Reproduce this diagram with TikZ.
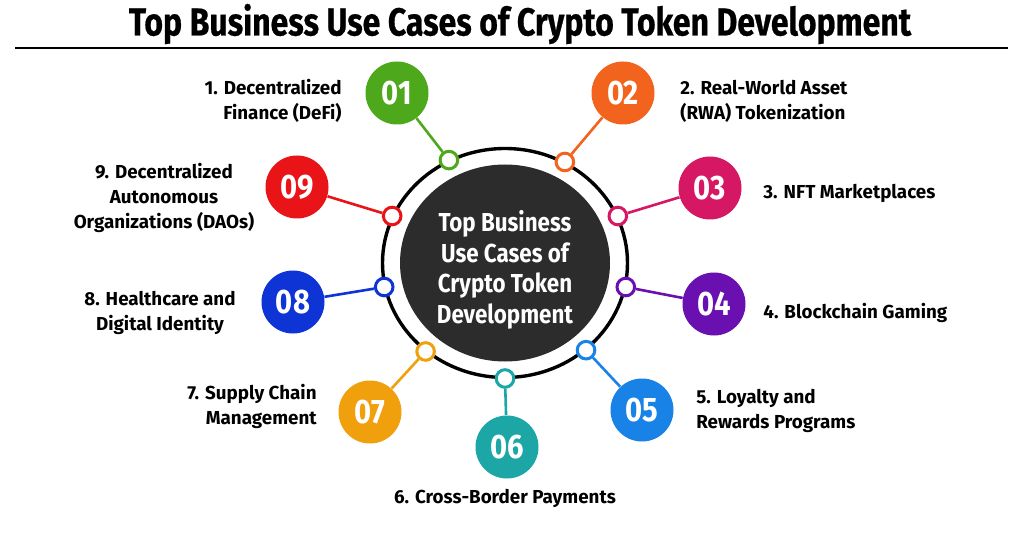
\documentclass[tikz,border=0pt]{standalone}
\usepackage{fontspec}
\setmainfont{Fira Sans}
\newfontfamily\condfont{Fira Sans}[FakeStretch=0.86]
\newfontfamily\titlefont{Fira Sans}[FakeStretch=0.82, FakeBold=0.6]
\usetikzlibrary{positioning, shapes.geometric}
\definecolor{cgreen}{RGB}{78,168,28}
\definecolor{corange}{RGB}{242,100,30}
\definecolor{cmagenta}{RGB}{214,24,100}
\definecolor{cpurple}{RGB}{106,16,176}
\definecolor{cblue}{RGB}{24,130,230}
\definecolor{cteal}{RGB}{28,166,166}
\definecolor{camber}{RGB}{240,160,12}
\definecolor{croyal}{RGB}{14,52,214}
\definecolor{cred}{RGB}{232,20,24}
\definecolor{darkcore}{RGB}{44,44,44}
\tikzset{
  numdot/.style={circle, fill=#1, text=white, minimum size=31.5pt, inner sep=0pt,
    font=\condfont\fontsize{17}{17}\selectfont\bfseries},
  ringdot/.style={circle, draw=#1, fill=white, line width=1.5pt, minimum size=8.8pt, inner sep=0pt},
  caselabel/.style={font=\fontsize{9.4}{12.5}\selectfont\bfseries, inner sep=0pt},
}

\begin{document}
\begin{tikzpicture}[x=0.5pt, y=-0.5pt]
  \useasboundingbox[fill=white] (0,0) rectangle (1024,535);
  % title
  \node[font=\titlefont\fontsize{19.5}{19.5}\selectfont\bfseries] (title) at (520,24) {Top Business Use Cases of Crypto Token Development};
  \draw[line width=0.9pt] (15,48) -- (1008,48);
  % centre
  \draw[line width=1.7pt] (505,263) ellipse [x radius=61.25pt, y radius=57.25pt];
  \node[ellipse, fill=darkcore, minimum width=105pt, minimum height=98.5pt] (core) at (505,263) {};
  \node[text=white, align=center, font=\condfont\fontsize{13}{15.3}\selectfont\bfseries] (coretext) at (505,270)
    {Top Business\\Use Cases of\\Crypto Token\\Development};
  % numbered points
  \foreach \i/\ang/\nx/\ny/\col in {1/117/397/93/cgreen, 2/61/623/93/corange, 3/24/710/188/cmagenta,
      4/-12/714/304/cpurple, 5/-49/642/410/cblue, 6/-90/507/447/cteal, 7/-130/370/412/camber,
      8/192/293/302/croyal, 9/156/297/187/cred}{
    \node[numdot=\col] (n\i) at (\nx,\ny) {0\i};
    \node[ringdot=\col] (d\i) at ({505+123.5*cos(\ang)},{263-115.5*sin(\ang)}) {};
    \draw[\col, line width=1.3pt] (n\i) -- (d\i);
  }
  % labels
  \node[caselabel, anchor=east, align=right] (l1) at (342,101) {1. Decentralized\\Finance (DeFi)};
  \node[caselabel, anchor=west, align=left] (l2) at (680,101) {2. Real-World Asset\\(RWA) Tokenization};
  \node[caselabel, anchor=west] (l3) at (763,193) {3. NFT Marketplaces};
  \node[caselabel, anchor=west] (l4) at (763,313) {4. Blockchain Gaming};
  \node[caselabel, anchor=west, align=left] (l5) at (696,411) {5. Loyalty and\\Rewards Programs};
  \node[caselabel] (l6) at (505,498) {6. Cross-Border Payments};
  \node[caselabel, anchor=east, align=right] (l7) at (317,406) {7. Supply Chain\\Management};
  \node[caselabel, align=center] (l8) at (160,313) {8. Healthcare and\\Digital Identity};
  \node[caselabel, align=center] (l9) at (164,198) {9. Decentralized\\Autonomous\\Organizations (DAOs)};
\end{tikzpicture}
\end{document}
